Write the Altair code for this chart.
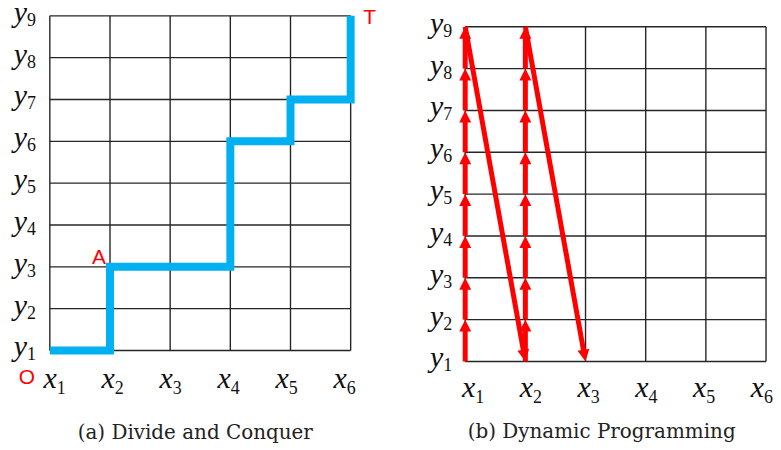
import math
import altair as alt
import pandas as pd

# ---------------- data ----------------
x_subs = ["1", "2", "3", "4", "5", "6"]
y_subs = ["1", "2", "3", "4", "5", "6", "7", "8", "9"]
x_cols = [1, 2, 3, 4, 5, 6]
y_rows = [1, 2, 3, 4, 5, 6, 7, 8, 9]

# (a) divide and conquer path, as (column, row)
path_a_x = [1, 2, 2, 4, 4, 5, 5, 6, 6]
path_a_y = [1, 1, 3, 3, 6, 6, 7, 7, 9]
point_labels = ["O", "A", "T"]
point_label_x = [1, 2, 6]
point_label_y = [1, 3, 9]

# (b) dynamic programming visiting order
path_b_x = [1, 1, 1, 1, 1, 1, 1, 1, 1,
            2, 2, 2, 2, 2, 2, 2, 2, 2,
            3]
path_b_y = [1, 2, 3, 4, 5, 6, 7, 8, 9,
            1, 2, 3, 4, 5, 6, 7, 8, 9,
            1]

captions = ["(a) Divide and Conquer", "(b) Dynamic Programming"]

# ---------------- layout ----------------
PX_X = 60.4   # pixels per column
PX_Y = 42.0   # pixels per row
H = 434
W_A, W_B = 392, 373
TOP_A, TOP_B = 6, 17      # grid top offset inside each panel
LEFT_A, LEFT_B = 42, 67   # grid left offset inside each panel
BLUE = "#00B0F0"
RED = "#FF0000"
GRID = "#262626"
INK = "#111111"
HEAD = 12
LET_FS, SUB_FS = 30, 18
YLET_DY, YSUB_DY = 6, 10

# text boxes above the plot top would push the whole chart down; cancel that
overflow = max(0, round(0.8 * LET_FS) - (TOP_A + YLET_DY))


def scales(left_off, top_off, width):
    xlo = 1 - left_off / PX_X
    xhi = xlo + width / PX_X
    yhi = 9 + top_off / PX_Y
    ylo = yhi - H / PX_Y
    return (alt.Scale(domain=[xlo, xhi], nice=False, zero=False),
            alt.Scale(domain=[ylo, yhi], nice=False, zero=False))


def grid_df():
    rows = []
    for c in x_cols:
        rows.append(dict(x=c, x2=c, y=y_rows[0], y2=y_rows[-1]))
    for r in y_rows:
        rows.append(dict(x=x_cols[0], x2=x_cols[-1], y=r, y2=r))
    return pd.DataFrame(rows)


def panel_base(xs, ys, ylab_dx, xlab_start, xlab_step, xlab_dy, cap_dx, cap_dy, caption):
    X = lambda f: alt.X(f, scale=xs, axis=None)
    Y = lambda f: alt.Y(f, scale=ys, axis=None)
    grid = alt.Chart(grid_df()).mark_rule(color=GRID, strokeWidth=1.4).encode(
        x=X("x:Q"), y=Y("y:Q"), x2="x2:Q", y2="y2:Q")
    ydf = pd.DataFrame({"x": [x_cols[0]] * len(y_rows), "y": y_rows,
                        "letter": ["y"] * len(y_rows), "sub": y_subs})
    xlab_pos = [x_cols[0] + (xlab_start + xlab_step * k) / PX_X for k in range(len(x_cols))]
    xdf = pd.DataFrame({"x": xlab_pos, "y": [y_rows[0]] * len(x_cols),
                        "letter": ["x"] * len(x_cols), "sub": x_subs})
    letter_style = dict(font="Liberation Serif", fontStyle="italic", fontSize=LET_FS,
                        color=INK, baseline="alphabetic")
    sub_style = dict(font="Liberation Serif", fontSize=SUB_FS, color=INK,
                     baseline="alphabetic")
    ylet = alt.Chart(ydf).mark_text(align="right", dx=ylab_dx, dy=YLET_DY, **letter_style).encode(
        x=X("x:Q"), y=Y("y:Q"), text="letter:N")
    ysub = alt.Chart(ydf).mark_text(align="left", dx=ylab_dx, dy=YSUB_DY, **sub_style).encode(
        x=X("x:Q"), y=Y("y:Q"), text="sub:N")
    xlet = alt.Chart(xdf).mark_text(align="right", dy=xlab_dy, **letter_style).encode(
        x=X("x:Q"), y=Y("y:Q"), text="letter:N")
    xsub = alt.Chart(xdf).mark_text(align="left", dx=0, dy=xlab_dy + 6, **sub_style).encode(
        x=X("x:Q"), y=Y("y:Q"), text="sub:N")
    cdf = pd.DataFrame({"x": [(x_cols[0] + x_cols[-1]) / 2], "y": [y_rows[0]], "t": [caption]})
    cap = alt.Chart(cdf).mark_text(font="DejaVu Serif", fontSize=20, color="#222",
                                   align="center", baseline="alphabetic",
                                   dx=cap_dx, dy=cap_dy).encode(
        x=X("x:Q"), y=Y("y:Q"), text="t:N")
    return [grid, ylet, ysub, xlet, xsub, cap], X, Y


# ---------------- panel (a) ----------------
xs_a, ys_a = scales(LEFT_A, TOP_A, W_A)
layers_a, XA, YA = panel_base(xs_a, ys_a, -23, 7, 58.2, 38, -5, 89, captions[0])
pa = pd.DataFrame({"x": path_a_x, "y": path_a_y, "i": list(range(len(path_a_x)))})
blue = alt.Chart(pa).mark_line(color=BLUE, strokeWidth=8, strokeCap="butt",
                               strokeJoin="miter").encode(
    x=XA("x:Q"), y=YA("y:Q"), order="i:Q")
lab = pd.DataFrame({"x": point_label_x, "y": point_label_y, "t": point_labels})
label_offsets = [(-23, 28), (-11, -9), (19, 2)]
lab_layers = []
for k, (ddx, ddy) in enumerate(label_offsets):
    lab_layers.append(
        alt.Chart(lab.iloc[[k]]).mark_text(font="Liberation Sans", fontSize=21, color=RED,
                                           align="center", baseline="middle",
                                           dx=ddx, dy=ddy).encode(
            x=XA("x:Q"), y=YA("y:Q"), text="t:N"))
chart_a = alt.layer(layers_a[0], blue, *layers_a[1:], *lab_layers).properties(width=W_A, height=H)

# ---------------- panel (b) ----------------
xs_b, ys_b = scales(LEFT_B, TOP_B, W_B)
layers_b, XB, YB = panel_base(xs_b, ys_b, -22, 10, 58.0, 36, -14, 77, captions[1])
segs = []
for i in range(len(path_b_x) - 1):
    x0, y0, x1, y1 = path_b_x[i], path_b_y[i], path_b_x[i + 1], path_b_y[i + 1]
    dxp, dyp = (x1 - x0) * PX_X, (y1 - y0) * PX_Y
    L = math.hypot(dxp, dyp)
    segs.append(dict(x=x0, y=y0,
                     xe=x1 - dxp / L * (HEAD * 0.5) / PX_X,
                     ye=y1 - dyp / L * (HEAD * 0.5) / PX_Y,
                     tx=x1, ty=y1,
                     angle=math.degrees(math.atan2(dxp, dyp)) % 360))
sdf = pd.DataFrame(segs)
shafts = alt.Chart(sdf).mark_rule(color=RED, strokeWidth=5, strokeCap="butt").encode(
    x=XB("x:Q"), y=YB("y:Q"), x2="xe:Q", y2="ye:Q")
heads = alt.Chart(sdf).mark_point(shape="M0,0L-0.5,1L0.5,1Z", filled=True, size=HEAD * HEAD * 4,
                                  color=RED, opacity=1, strokeWidth=0).encode(
    x=XB("tx:Q"), y=YB("ty:Q"), angle=alt.Angle("angle:Q", scale=None))
chart_b = alt.layer(layers_b[0], shafts, heads, *layers_b[1:]).properties(width=W_B, height=H)

chart = alt.hconcat(chart_a, chart_b, spacing=0,
                    padding={"top": -overflow, "left": 0, "right": 0, "bottom": 0}
                    ).configure_view(stroke=None)
chart.save("out.html", embed_options={"renderer": "svg", "actions": False})
